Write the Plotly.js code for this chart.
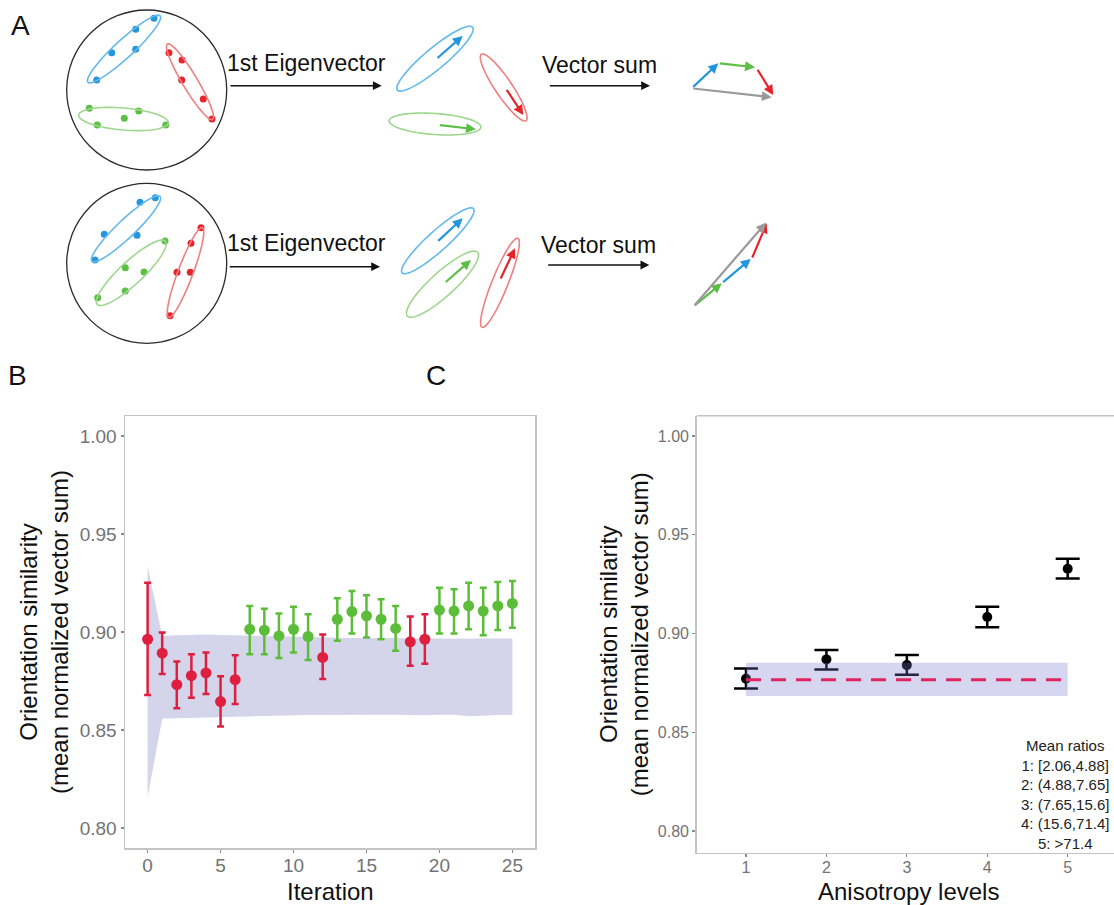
<!DOCTYPE html>
<html>
<head>
<meta charset="utf-8">
<script src="https://cdn.plot.ly/plotly-3.0.1.min.js"></script>
<style>html,body{margin:0;padding:0;background:#fff;}#chart{width:1114px;height:905px;}</style>
</head>
<body>
<div id="chart"></div>
<script>
// ---------------- Panel B data ----------------
const bIteration = [0,1,2,3,4,5,6,7,8,9,10,11,12,13,14,15,16,17,18,19,20,21,22,23,24,25];
const bMean  = [0.8963,0.8892,0.8731,0.8777,0.8791,0.8645,0.8757,0.9014,0.9009,0.8980,0.9014,0.8977,0.8870,0.9065,0.9104,0.9082,0.9065,0.9018,0.8950,0.8963,0.9112,0.9107,0.9133,0.9107,0.9133,0.9146];
const bUpper = [0.9251,0.8997,0.8850,0.8887,0.8896,0.8774,0.8882,0.9133,0.9119,0.9095,0.9129,0.9090,0.8987,0.9172,0.9209,0.9187,0.9167,0.9133,0.9079,0.9090,0.9226,0.9218,0.9251,0.9226,0.9255,0.9260];
const bLower = [0.8679,0.8786,0.8611,0.8664,0.8684,0.8518,0.8633,0.8887,0.8887,0.8867,0.8896,0.8857,0.8760,0.8955,0.8992,0.8972,0.8963,0.8904,0.8828,0.8838,0.8992,0.8992,0.9014,0.8984,0.9010,0.9022];
const bAboveNull = [false,false,false,false,false,false,false,true,true,true,true,true,false,true,true,true,true,true,false,false,true,true,true,true,true,true];
const nullRibbonUpper = [0.9336,0.8980,0.8983,0.8985,0.8987,0.8985,0.8983,0.8982,0.8980,0.8978,0.8977,0.8975,0.8973,0.8972,0.8970,0.8970,0.8970,0.8968,0.8968,0.8967,0.8967,0.8965,0.8967,0.8967,0.8967,0.8967];
const nullRibbonLower = [0.8159,0.8557,0.8560,0.8562,0.8565,0.8568,0.8570,0.8572,0.8574,0.8575,0.8575,0.8576,0.8577,0.8577,0.8578,0.8578,0.8578,0.8578,0.8575,0.8575,0.8578,0.8578,0.8570,0.8575,0.8577,0.8577];
const bTicks = [0,5,10,15,20,25];
const simTicks = [0.80,0.85,0.90,0.95,1.00];
const simTickLabels = ["0.80","0.85","0.90","0.95","1.00"];

// ---------------- Panel C data ----------------
const cLevels = [1,2,3,4,5];
const cMean  = [0.8771,0.8869,0.8840,0.9084,0.9328];
const cUpper = [0.8823,0.8916,0.8891,0.9135,0.9379];
const cLower = [0.8721,0.8818,0.8791,0.9032,0.9278];
const cNullLevels = [1,5];
const cNullUpper = [0.8852,0.8852];
const cNullLower = [0.8684,0.8684];
const cNullMean  = [0.8766,0.8766];
const meanRatioLines = ["Mean ratios","1: [2.06,4.88]","2: (4.88,7.65]","3: (7.65,15.6]","4: (15.6,71.4]","5: >71.4"];

// ---------------- Panel A schematic (diagram units) ----------------
const circleCx = [146.7,146.7];
const circleCy = [90,263.3];
const circleR  = [80,80];
// ellipses
const ellCx    = [124,190,123.5, 435,503.7,435, 126,131.3,185.5, 437.8,442.5,500];
const ellCy    = [49,81.7,119, 58.7,87.5,124, 228.8,272.8,272.5, 240.8,284.2,282.8];
const ellA     = [49,44,45, 49,40,46, 47,46.5,48, 48,47.5,48];
const ellB     = [9,7.5,11, 10.5,8.5,10.5, 9,11.5,7.5, 10,12,8];
const ellAngle = [-42.6,59.1,5, -39.9,56.1,4, -43.6,-42.9,-69.4, -42,-42.2,-68.1];
const ellGroup = ["blue","red","green","blue","red","green","blue","green","red","blue","green","red"];
// dots inside circles
const dotBlueX  = [96.7,111.7,135.7,135.7,154, 95,104.3,137,140,155.3];
const dotBlueY  = [80,52.7,49.3,29.3,18.3, 260,234.3,235.3,202.3,197.7];
const dotRedX   = [169,182,181.7,203.3,212, 170,177,190.3,191,201];
const dotRedY   = [52.7,60,80,99,119, 315.7,272.3,272.3,243.3,227.7];
const dotGreenX = [89.3,97.3,124.3,138.7,165.7, 97.7,125.3,125.3,144,165];
const dotGreenY = [108.3,125,118.3,111,125, 297.7,291,267.7,272,241];
// arrows: tail (x0,y0) -> head (x1,y1)
const arrX0 = [436,505.7,438.3, 691.7,718.3,756.7,691.7, 436.7,444.3,500, 693.3,721.7,751.7,693.3, 229,548.3,228.3,546.7];
const arrY0 = [59.3,88.3,125, 88.3,63.3,68.3,88.3, 242.3,283.3,280, 306.7,283.3,259,306.7, 85.7,85.7,266.7,265];
const arrX1 = [462.7,523.3,476, 718.3,755,773.3,771.7, 462.7,471,515, 721.7,750.7,766.7,766, 381.7,650,380,649.3];
const arrY1 = [36,115,129.3, 63.3,67.3,95,97.3, 218.3,260,248.3, 283.3,259,223.3,222.7, 85.7,85.7,266.7,265];
const arrGroup = ["blue","red","green", "blue","green","red","gray", "blue","green","red", "green","blue","red","gray", "black","black","black","black"];
const stepLabels = ["1st Eigenvector","Vector sum","1st Eigenvector","Vector sum"];
const stepLabelX = [306,599,306,598];
const stepLabelY = [63.3,65,243.3,245];
const panelLetters = ["A","B","C"];
const xTitles = ["Iteration","Anisotropy levels"];

// ---------------- styling ----------------
const FONT = "Liberation Sans, Arial, Helvetica, sans-serif";
const RED = "#de1f40", GREEN = "#5cbd3a";
const dotColor = {blue:"#2596dc", red:"#e5252b", green:"#5cbf45", gray:"#9a9a9a", black:"#111111"};
const ellColor = {blue:"#62b9ea", red:"#ef7f7f", green:"#9fd68e"};

function ellipsePath(cx, cy, a, b, deg) {
  const t = deg*Math.PI/180; let d = "";
  for (let i=0;i<=64;i++){
    const u = 2*Math.PI*i/64;
    const x = cx + a*Math.cos(u)*Math.cos(t) - b*Math.sin(u)*Math.sin(t);
    const y = cy + a*Math.cos(u)*Math.sin(t) + b*Math.sin(u)*Math.cos(t);
    d += (i?"L":"M") + x.toFixed(2) + "," + y.toFixed(2);
  }
  return d + "Z";
}

const traces = [];
// Panel B ribbon
traces.push({x:bIteration, y:nullRibbonLower, xaxis:"x", yaxis:"y", mode:"lines", line:{width:0,color:"#d3d3ea"}, showlegend:false, hoverinfo:"skip"});
traces.push({x:bIteration, y:nullRibbonUpper, xaxis:"x", yaxis:"y", mode:"lines", line:{width:0,color:"#d3d3ea"}, fill:"tonexty", fillcolor:"#d4d4ea", showlegend:false, hoverinfo:"skip"});
// Panel B points split by group
function subset(arr, flag){ return arr.filter((v,i)=>bAboveNull[i]===flag); }
[[false,RED],[true,GREEN]].forEach(([flag,col])=>{
  const m = subset(bMean,flag), u = subset(bUpper,flag), l = subset(bLower,flag);
  traces.push({
    x: subset(bIteration,flag), y: m, xaxis:"x", yaxis:"y", mode:"markers", type:"scatter",
    marker:{color:col, size:11},
    error_y:{type:"data", symmetric:false, array:u.map((v,i)=>v-m[i]), arrayminus:m.map((v,i)=>v-l[i]), color:col, thickness:2.5, width:3.5},
    showlegend:false
  });
});
// Panel C points
traces.push({
  x:cLevels, y:cMean, xaxis:"x2", yaxis:"y2", mode:"markers", type:"scatter",
  marker:{color:"#000", size:10},
  error_y:{type:"data", symmetric:false, array:cUpper.map((v,i)=>v-cMean[i]), arrayminus:cMean.map((v,i)=>v-cLower[i]), color:"#000", thickness:2.5, width:12},
  showlegend:false
});
// Panel C null band (translucent, over the points)
traces.push({x:cNullLevels, y:cNullLower, xaxis:"x2", yaxis:"y2", mode:"lines", line:{width:0,color:"rgba(0,0,0,0)"}, showlegend:false, hoverinfo:"skip"});
traces.push({x:cNullLevels, y:cNullUpper, xaxis:"x2", yaxis:"y2", mode:"lines", line:{width:0,color:"rgba(0,0,0,0)"}, fill:"tonexty", fillcolor:"rgba(120,120,205,0.30)", showlegend:false, hoverinfo:"skip"});
traces.push({x:cNullLevels, y:cNullMean, xaxis:"x2", yaxis:"y2", mode:"lines", line:{width:3,color:"#e0245e",dash:"15px,10px"}, showlegend:false, hoverinfo:"skip"});
// Panel A dots
[["blue",dotBlueX,dotBlueY],["red",dotRedX,dotRedY],["green",dotGreenX,dotGreenY]].forEach(([g,xs,ys])=>{
  traces.push({x:xs, y:ys, xaxis:"x3", yaxis:"y3", mode:"markers", marker:{color:dotColor[g], size:7}, showlegend:false, hoverinfo:"skip"});
});

const shapes = [];
for (let i=0;i<circleCx.length;i++){
  shapes.push({type:"circle", xref:"x3", yref:"y3", x0:circleCx[i]-circleR[i], x1:circleCx[i]+circleR[i], y0:circleCy[i]-circleR[i], y1:circleCy[i]+circleR[i], line:{color:"#2b2b2b", width:1.3}});
}
for (let i=0;i<ellCx.length;i++){
  shapes.push({type:"path", xref:"x3", yref:"y3", path:ellipsePath(ellCx[i],ellCy[i],ellA[i],ellB[i],ellAngle[i]), line:{color:ellColor[ellGroup[i]], width:1.6}});
}
// Panel C top frame line (plot extends past the right edge)
shapes.push({type:"line", xref:"paper", yref:"paper", x0:696.7/1114, x1:1.02, y0:(905-415.7)/905, y1:(905-415.7)/905, line:{color:"#c4c4c4", width:1.5}});

const annotations = [];
for (let i=0;i<arrX0.length;i++){
  const g = arrGroup[i], black = g==="black";
  annotations.push({xref:"x3", yref:"y3", axref:"x3", ayref:"y3", x:arrX1[i], y:arrY1[i], ax:arrX0[i], ay:arrY0[i], text:"", showarrow:true,
    arrowhead:2, arrowsize:black?1.1:0.9, arrowwidth:black?1.6:2.2, arrowcolor:dotColor[g], standoff:0, startstandoff:0});
}
for (let i=0;i<stepLabels.length;i++){
  annotations.push({xref:"x3", yref:"y3", x:stepLabelX[i], y:stepLabelY[i], text:stepLabels[i], showarrow:false, font:{family:FONT, size:23, color:"#111"}, xanchor:"center", yanchor:"middle"});
}
const letterPos = [[20,26],[17,376],[436,376]];
panelLetters.forEach((t,i)=>{
  annotations.push({xref:"paper", yref:"paper", x:letterPos[i][0]/1114, y:1-letterPos[i][1]/905, text:t, showarrow:false, font:{family:FONT, size:28, color:"#111"}, xanchor:"center", yanchor:"middle"});
});
annotations.push({xref:"paper", yref:"paper", x:1065/1114, y:1-794/905, text:meanRatioLines.join("<br>"), showarrow:false, align:"center", xanchor:"center", yanchor:"middle", font:{family:FONT, size:15, color:"#222"}});
// x-axis titles (placed as annotations under each panel)
const titleFont = {family:FONT, size:24, color:"#111"};
annotations.push({xref:"x", yref:"paper", x:12.5, y:1-891/905, text:xTitles[0], showarrow:false, xanchor:"center", yanchor:"middle", font:titleFont});
annotations.push({xref:"x2", yref:"paper", x:3.02, y:1-891/905, text:xTitles[1], showarrow:false, xanchor:"center", yanchor:"middle", font:titleFont});

function axisStyle(tickSize){
  return {
    showgrid:false, zeroline:false, showline:true, linecolor:"#c4c4c4", linewidth:1.5,
    ticks:"outside", ticklen:3, tickcolor:"#8a8a8a", tickwidth:1.2,
    tickfont:{family:FONT, size:tickSize, color:"#737373"}, automargin:false
  };
}
const yTitle = "Orientation similarity<br>(mean normalized vector sum)";

const layout = {
  width:1114, height:905, margin:{l:0,r:0,t:0,b:0}, paper_bgcolor:"#fff", plot_bgcolor:"#fff",
  font:{family:FONT}, showlegend:false,
  xaxis: Object.assign(axisStyle(19), {domain:[125/1114, 535/1114], range:[-1.55,26.55], tickvals:bTicks, ticktext:bTicks.map(String), mirror:true, anchor:"y", ticklabelstandoff:-3}),
  yaxis: Object.assign(axisStyle(19), {domain:[57/905, 489/905], range:[0.7898,1.0102], tickvals:simTicks, ticktext:simTickLabels, mirror:true, anchor:"x",
    title:{text:yTitle, font:titleFont, standoff:4}}),
  xaxis2: Object.assign(axisStyle(16), {domain:[696.7/1114, 1], range:[0.387,5.576], tickvals:cLevels, ticktext:cLevels.map(String), anchor:"y2", ticklabelstandoff:-3}),
  yaxis2: Object.assign(axisStyle(16), {domain:[52.3/905, 489.3/905], range:[0.789,1.0103], tickvals:simTicks, ticktext:simTickLabels, anchor:"x2",
    title:{text:yTitle, font:titleFont, standoff:2}}),
  xaxis3: {domain:[0,1], range:[0,1114], visible:false, fixedrange:true, anchor:"y3"},
  yaxis3: {domain:[(905-350)/905,1], range:[350,0], visible:false, fixedrange:true, anchor:"x3"},
  shapes: shapes, annotations: annotations
};

Plotly.newPlot("chart", traces, layout, {staticPlot:true, displayModeBar:false});
</script>
</body>
</html>
